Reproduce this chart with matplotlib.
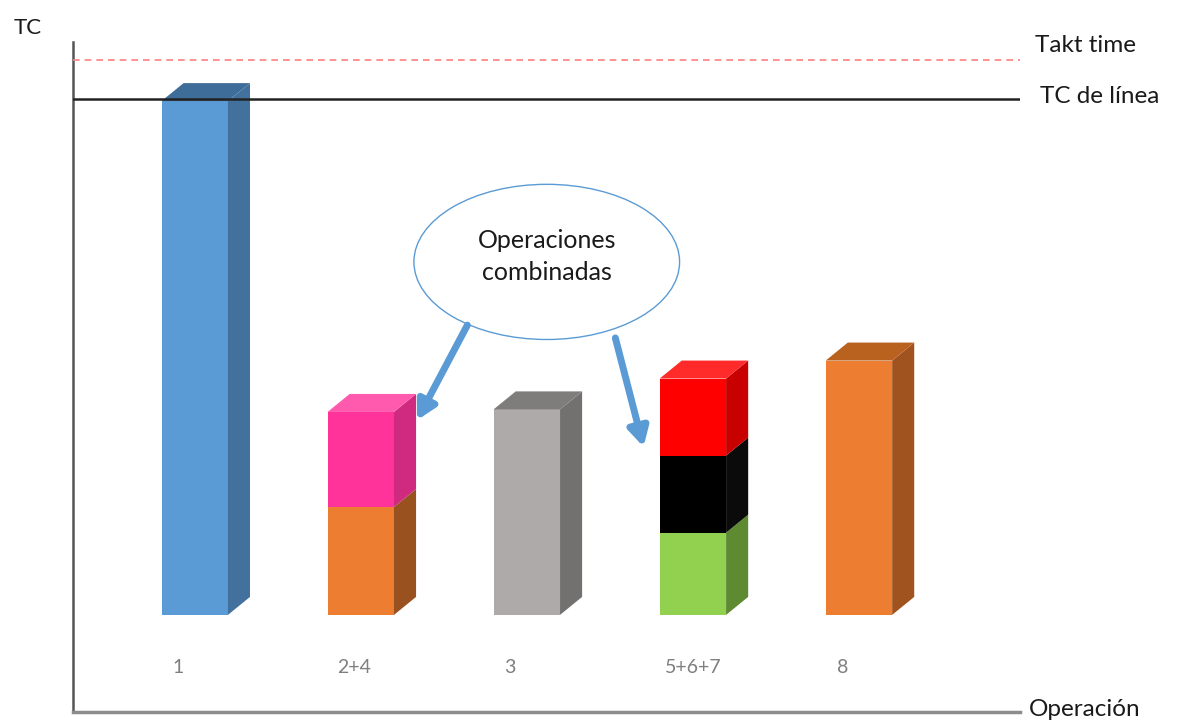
import matplotlib.pyplot as plt
from matplotlib.patches import Polygon, Ellipse

plt.rcParams['font.family'] = ['Lato', 'DejaVu Sans']

# cycle time per workstation (stacked parts for combined operations)
operaciones = ['1', '2+4', '3', '5+6+7', '8']
segmentos = [
    [100.0],
    [21.0, 18.5],
    [40.0],
    [16.0, 15.0, 15.0],
    [49.5],
]
# front / side / top colours per segment
colores = [
    [('#5B9BD5', '#41719C', '#3F6D99')],
    [('#ED7D31', '#9A5120', '#ED7D31'), ('#FF3399', '#CF2A80', '#FF5AAE')],
    [('#AEAAAA', '#737070', '#7F7C7C')],
    [('#92D050', '#5E8A31', '#92D050'), ('#000000', '#0B0B0B', '#000000'),
     ('#FF0000', '#C80000', '#FF2B2B')],
    [('#ED7D31', '#A0531F', '#B9611F')],
]
takt_time = 108.0
tc_linea = 100.4

W = 0.40      # front face width
DX = 0.133    # depth offset in x
DY = 3.5      # depth offset in y
desfase_etiqueta = [-0.10, -0.04, -0.10, 0.0, -0.10]

fig = plt.figure(figsize=(11.77, 7.24), dpi=100)
ax = fig.add_axes([73 / 1177, 12 / 724, (1020 - 73) / 1177, (712 - 42) / 724])
ax.set_xlim(-0.733, 4.97)
ax.set_ylim(-18.9, 111.5)

for i, (vals, cols) in enumerate(zip(segmentos, colores)):
    x0 = i - W / 2
    x1 = i + W / 2
    base = 0.0
    for v, (cf, cs, ct) in zip(vals, cols):
        top = base + v
        ax.add_patch(Polygon([(x0, base), (x1, base), (x1, top), (x0, top)],
                             closed=True, fc=cf, ec='none', zorder=3))
        ax.add_patch(Polygon([(x1, base), (x1 + DX, base + DY), (x1 + DX, top + DY), (x1, top)],
                             closed=True, fc=cs, ec='none', zorder=3))
        base = top
    cf, cs, ct = cols[-1]
    ax.add_patch(Polygon([(x0, base), (x1, base), (x1 + DX, base + DY), (x0 + DX, base + DY)],
                         closed=True, fc=ct, ec='none', zorder=3))
    ax.text(i + desfase_etiqueta[i], -10.3, operaciones[i], ha='center', va='center',
            fontsize=14, color='#7F7F7F')

# reference lines
ax.axhline(takt_time, color='#FF7F7F', lw=1.2, ls=(0, (4, 3)), zorder=4)
ax.axhline(tc_linea, color='#222222', lw=1.8, zorder=4)
ax.text(1.016, takt_time + 2.8, 'Takt time', transform=ax.get_yaxis_transform(),
        ha='left', va='center', fontsize=17.5, color='#1a1a1a')
ax.text(1.021, tc_linea + 0.5, 'TC de línea', transform=ax.get_yaxis_transform(),
        ha='left', va='center', fontsize=17.5, color='#1a1a1a')

# callout for the combined operations
ax.add_patch(Ellipse((2.12, 68.7), 1.60, 30.2, fc='white', ec='#5B9BD5', lw=1.0, zorder=5))
ax.text(2.12, 69.8, 'Operaciones\ncombinadas', ha='center', va='center',
        fontsize=18, color='#1a1a1a', linespacing=1.45, zorder=6)
flecha = dict(arrowstyle='-|>,head_length=1.1,head_width=0.6', color='#5B9BD5', lw=5,
              shrinkA=0, shrinkB=0)
ax.annotate('', xy=(1.339, 37.9), xytext=(1.642, 56.4), arrowprops=flecha, zorder=6)
ax.annotate('', xy=(2.703, 32.7), xytext=(2.533, 53.9), arrowprops=flecha, zorder=6)

for s in ['top', 'right']:
    ax.spines[s].set_visible(False)
ax.spines['left'].set_color('#555555')
ax.spines['left'].set_linewidth(1.8)
ax.spines['bottom'].set_color('#8C8C8C')
ax.spines['bottom'].set_linewidth(2.5)
ax.set_xticks([])
ax.set_yticks([])
ax.patch.set_alpha(0)

fig.text(14 / 1177, 1 - 28 / 724, 'TC', ha='left', va='center', fontsize=16, color='#1a1a1a')
fig.text(1029 / 1177, 1 - 709 / 724, 'Operación', ha='left', va='center', fontsize=17.5,
         color='#1a1a1a')

fig.savefig('out.png', dpi=100)
